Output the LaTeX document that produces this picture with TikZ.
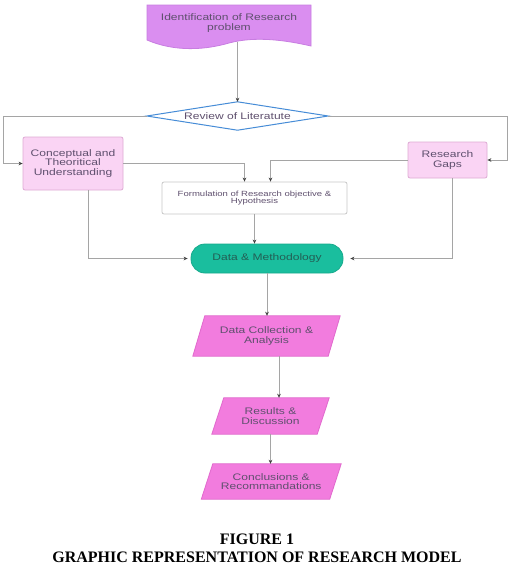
\documentclass[tikz,border=0pt]{standalone}
\usepackage{fontspec}
\setmainfont{Liberation Serif}
\newfontfamily\dfont[FakeStretch=1.27]{Liberation Sans}
\usetikzlibrary{arrows.meta,backgrounds,calc}
\definecolor{txtcol}{RGB}{95,80,110}
\definecolor{conncol}{RGB}{165,165,165}
\definecolor{violetfill}{RGB}{218,142,240}
\definecolor{violetdraw}{RGB}{200,125,225}
\definecolor{pinkfill}{RGB}{250,212,244}
\definecolor{pinkdraw}{RGB}{222,170,212}
\definecolor{tealfill}{RGB}{26,190,158}
\definecolor{tealdraw}{RGB}{22,170,140}
\definecolor{magfill}{RGB}{242,124,222}
\definecolor{magdraw}{RGB}{225,105,205}
\definecolor{diamblue}{RGB}{70,140,215}
\begin{document}
\begin{tikzpicture}[x=1pt,y=-1pt,
  lbl/.style={font={\dfont\fontsize{9.5}{9.8}\selectfont}, text=txtcol, align=center, inner sep=0pt},
  smalllbl/.style={font={\dfont\fontsize{7.5}{7.5}\selectfont}, text=txtcol, align=center, inner sep=0pt},
  pinkbox/.style={lbl, draw=pinkdraw, fill=pinkfill, line width=0.8pt, rounded corners=2pt},
  whitebox/.style={smalllbl, draw=black!22, fill=white, line width=0.8pt, rounded corners=2pt},
  stadium/.style={lbl, text={rgb,255:red,35;green,95;blue,85}, draw=tealdraw, fill=tealfill, line width=0.8pt, rounded corners=14pt},
  para/.style={draw=magdraw, fill=magfill, line width=0.8pt},
  conn/.style={draw=conncol, line width=1pt, -{Stealth[length=4pt,width=3.6pt,color=black!75]}},
  captxt/.style={font={\bfseries\fontsize{16}{16}\selectfont}, text=black, inner sep=0pt}
]
\useasboundingbox (0,0) rectangle (513,571);
\begin{scope}[on background layer]
  \fill[white] (0,0) rectangle (513,571);
\end{scope}

% document shape (identification)
\draw[fill=violetfill, draw=violetdraw, line width=0.8pt]
  (147,5) -- (311,5) -- (311,46)
  .. controls (285,40) and (255,36) .. (229,43)
  .. controls (205,50) and (175,52) .. (147,40) -- cycle;
\node[lbl, minimum width=164, minimum height=38] (ident) at (229,23) {Identification of Research\\problem};

% diamond
\node[lbl, minimum width=181, minimum height=28] (diam) at (237.5,116) {Review of Literatute};
\begin{scope}[on background layer]
  \draw[diamblue, fill=white, line width=1pt] (diam.west) -- (diam.north) -- (diam.east) -- (diam.south) -- cycle;
\end{scope}

\node[pinkbox, minimum width=100, minimum height=53] (concept) at (73,163.5) {Conceptual and\\Theoritical\\Understanding};
\node[pinkbox, minimum width=79, minimum height=36] (gaps) at (447.5,160) {Research\\Gaps};
\node[whitebox, minimum width=185, minimum height=32] (form) at (254.5,198) {Formulation of Research objective \&\\Hypothesis};
\node[stadium, minimum width=152, minimum height=29] (dm) at (267,258.5) {Data \& Methodology};

\node[lbl, minimum width=135, minimum height=40] (dc) at (266.5,336) {Data Collection \&\\Analysis};
\node[lbl, minimum width=105, minimum height=36] (res) at (270.5,416) {Results \&\\Discussion};
\node[lbl, minimum width=128, minimum height=35] (concl) at (271.25,481.5) {Conclusions \&\\Recommandations};
\begin{scope}[on background layer]
  \foreach \n/\s in {dc/6,res/6,concl/5.75}
    \draw[para] ([xshift=\s]\n.north west) -- ([xshift=\s]\n.north east) -- ([xshift=-\s]\n.south east) -- ([xshift=-\s]\n.south west) -- cycle;
\end{scope}

% connectors
\draw[conn] (diam.north |- ident.south) -- (diam.north);
\draw[conn] (diam.west) -| ([xshift=-19]concept.west) -- (concept.west);
\draw[conn] (diam.east) -| ([xshift=20]gaps.east) -- (gaps.east);
\draw[conn] (concept.east) -| ([xshift=-10]form.north);
\draw[conn] (gaps.west) -| ([xshift=16]form.north);
\draw[conn] (form.south) -- (form.south |- dm.north);
\draw[conn, shorten >=3pt] ([xshift=15]concept.south) |- (dm.west);
\draw[conn, shorten >=7pt] ([xshift=4.5]gaps.south) |- (dm.east);
\draw[conn] (dm.south) -- (dm.south |- dc.north);
\draw[conn] ([xshift=8.5]res.north |- dc.south) -- ([xshift=8.5]res.north);
\draw[conn] (res.south) -- (res.south |- concl.north);

% caption
\node[captxt] (fig) at (257,539) {FIGURE 1};
\node[captxt] (cap) at (257,557) {GRAPHIC REPRESENTATION OF RESEARCH MODEL};
\end{tikzpicture}
\end{document}
